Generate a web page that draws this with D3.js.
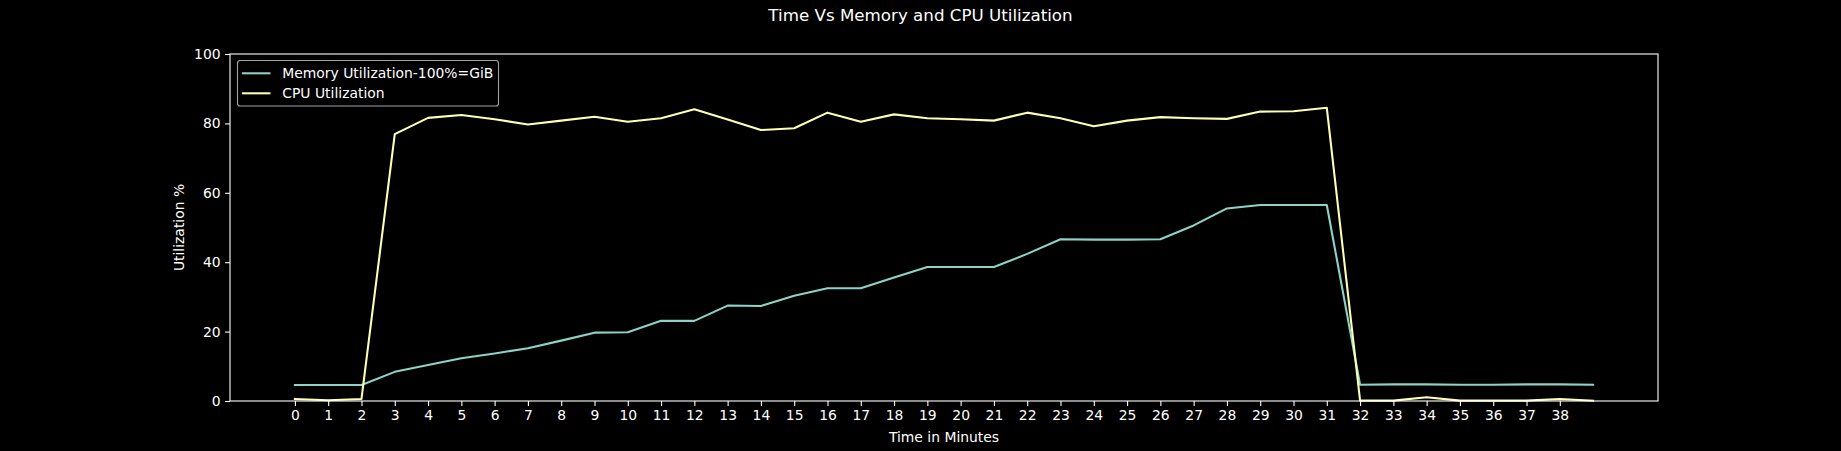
<!DOCTYPE html>
<html>
<head>
<meta charset="utf-8">
<script src="https://cdn.jsdelivr.net/npm/d3@7"></script>
<style>
  html, body { margin: 0; padding: 0; background: #000; }
  svg { display: block; }
  text { font-family: "DejaVu Sans", sans-serif; fill: #fff; }
</style>
</head>
<body>
<svg id="chart" width="1841" height="451"></svg>
<script>
const minutes = d3.range(0, 40);
const xTicks = d3.range(0, 39);
const yTicks = [0, 20, 40, 60, 80, 100];
const memoryUtil = [4.6,4.6,4.6,8.4,10.4,12.3,13.7,15.2,17.4,19.7,19.8,23.1,23.1,27.5,27.4,30.3,32.5,32.5,35.6,38.6,38.6,38.6,42.4,46.6,46.5,46.5,46.6,50.6,55.5,56.5,56.5,56.5,4.7,4.8,4.8,4.7,4.7,4.8,4.8,4.7];
const cpuUtil = [0.6,0.2,0.6,76.9,81.6,82.4,81.2,79.7,80.8,81.9,80.5,81.5,84.1,81.1,78.1,78.6,83.1,80.5,82.6,81.5,81.2,80.8,83.1,81.5,79.2,80.8,81.8,81.5,81.3,83.4,83.5,84.5,0.1,0.1,1.1,0.1,0.1,0.1,0.6,0.1];
const seriesNames = ["Memory Utilization-100%=GiB", "CPU Utilization"];
const seriesColors = ["#8dd3c7", "#feffb3"];

const svg = d3.select("#chart");
const pLeft = 230, pRight = 1658, pTop = 54, pBottom = 401;
const x = d3.scaleLinear().domain([-1.95, 40.95]).range([pLeft, pRight]);
const y = d3.scaleLinear().domain([0, 100]).range([pBottom, pTop]);

svg.append("rect").attr("width", 1841).attr("height", 451).attr("fill", "#000");

// lines
const line = d3.line().x((d, i) => x(minutes[i])).y(d => y(d));
[memoryUtil, cpuUtil].forEach((s, k) => {
  svg.append("path").datum(s)
    .attr("d", line)
    .attr("fill", "none")
    .attr("stroke", seriesColors[k])
    .attr("stroke-width", 2.08)
    .attr("stroke-linejoin", "round")
    .attr("stroke-linecap", "square");
});

// axes
const xAxis = d3.axisBottom(x).tickValues(xTicks).tickSize(4.9).tickPadding(4.5).tickFormat(d3.format("d"));
const yAxis = d3.axisLeft(y).tickValues(yTicks).tickSize(4.9).tickPadding(4.5).tickFormat(d3.format("d"));
const gx = svg.append("g").attr("transform", `translate(0,${pBottom})`).call(xAxis);
const gy = svg.append("g").attr("transform", `translate(${pLeft},0)`).call(yAxis);
[gx, gy].forEach(g => {
  g.select(".domain").remove();
  g.selectAll(".tick line").attr("stroke", "#fff").attr("stroke-width", 1.1);
  g.selectAll(".tick text").attr("fill", "#fff").style("font-size", "13.9px").style("font-family", "DejaVu Sans");
});

// spines
svg.append("rect").attr("x", pLeft).attr("y", pTop).attr("width", pRight - pLeft).attr("height", pBottom - pTop)
  .attr("fill", "none").attr("stroke", "#fff").attr("stroke-width", 1.1);

// title and labels
svg.append("text").attr("x", 920.5).attr("y", 21).attr("text-anchor", "middle")
  .style("font-size", "16.7px").text("Time Vs Memory and CPU Utilization");
svg.append("text").attr("x", (pLeft + pRight) / 2).attr("y", 442).attr("text-anchor", "middle")
  .style("font-size", "13.9px").text("Time in Minutes");
svg.append("text").attr("transform", `translate(184,${(pTop + pBottom) / 2}) rotate(-90)`).attr("text-anchor", "middle")
  .style("font-size", "13.9px").text("Utilization %");

// legend
const lg = svg.append("g");
lg.append("rect").attr("x", 237.5).attr("y", 60.5).attr("width", 261).attr("height", 45.5).attr("rx", 2.8)
  .attr("fill", "#000").attr("fill-opacity", 0.8).attr("stroke", "#a3a3a3").attr("stroke-width", 1.1);
seriesNames.forEach((n, k) => {
  const cy = 73.3 + k * 20;
  lg.append("line").attr("x1", 242).attr("x2", 270.5).attr("y1", cy).attr("y2", cy)
    .attr("stroke", seriesColors[k]).attr("stroke-width", 2.08);
  lg.append("text").attr("x", 282.3).attr("y", cy + 5).style("font-size", "13.9px").text(n);
});
</script>
</body>
</html>
